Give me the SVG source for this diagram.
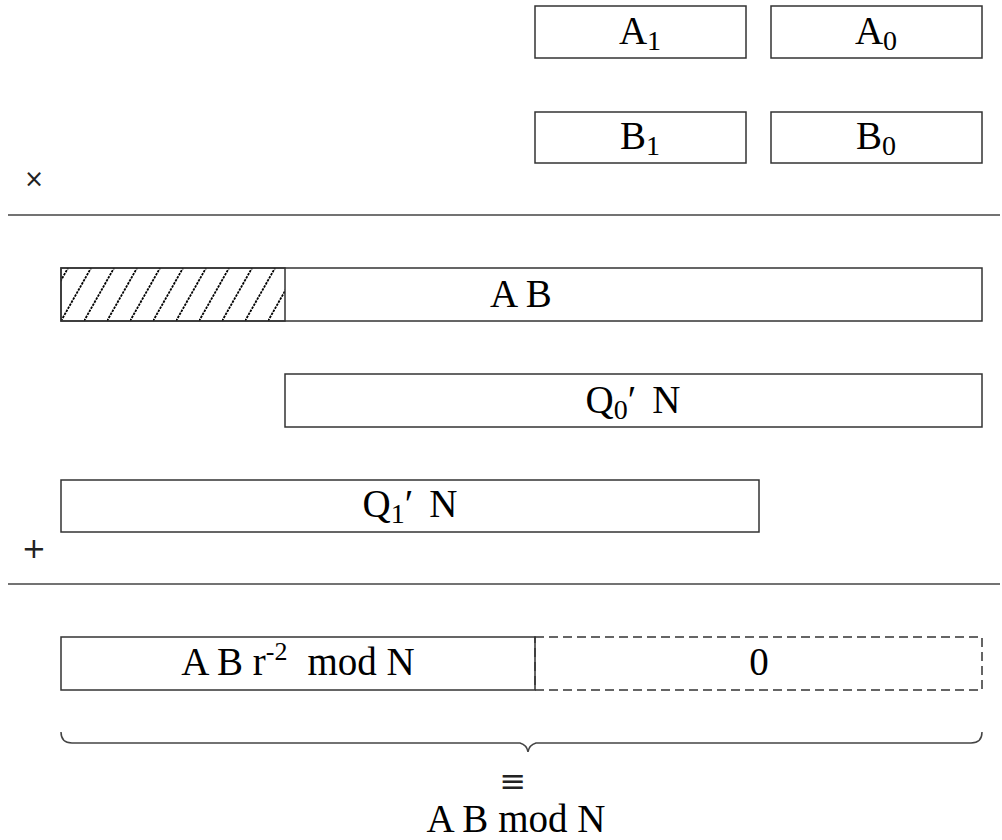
<svg xmlns="http://www.w3.org/2000/svg" width="1002" height="840" viewBox="0 0 1002 840">
<style>
.box{fill:#fff;stroke:#333;stroke-width:1.5}
.dash{fill:none;stroke:#333;stroke-width:1.5;stroke-dasharray:9,5}
.rule{stroke:#444;stroke-width:1.5}
.t{font-family:"Liberation Serif","Times New Roman",serif;font-size:39px;fill:#000;text-anchor:middle}
.sub{font-size:28px}
.sup{font-size:26px}
.op{font-family:"DejaVu Sans","Liberation Sans",sans-serif;font-size:24px;fill:#222;text-anchor:middle}
</style>
<defs>
<pattern id="hatch" patternUnits="userSpaceOnUse" width="23" height="53" x="61" y="268">
<path d="M0,53 L30,0 M-23,53 L7,0" stroke="#000" stroke-width="1.8" stroke-dasharray="2.5,1" fill="none"/>
</pattern>
</defs>
<g id="A1"><rect class="box" x="535" y="6" width="211" height="52"/><text class="t" x="640" y="44">A<tspan class="sub" dy="6">1</tspan></text></g>
<g id="A0"><rect class="box" x="771" y="6" width="211" height="52"/><text class="t" x="876" y="44">A<tspan class="sub" dy="6">0</tspan></text></g>
<g id="B1"><rect class="box" x="535" y="112" width="211" height="51"/><text class="t" x="640" y="149">B<tspan class="sub" dy="6">1</tspan></text></g>
<g id="B0"><rect class="box" x="771" y="112" width="211" height="51"/><text class="t" x="876" y="149">B<tspan class="sub" dy="6">0</tspan></text></g>
<g id="times"><text class="op" x="34" y="187">×</text></g>
<g id="rule1"><line class="rule" x1="8" y1="215" x2="1000" y2="215"/></g>
<g id="AB"><rect class="box" x="61" y="268" width="921" height="53"/><rect x="61" y="268" width="224" height="53" fill="url(#hatch)" stroke="#333" stroke-width="1.5"/><text class="t" x="521" y="307">A B</text></g>
<g id="Q0N"><rect class="box" x="285" y="374" width="697" height="53"/><text class="t" x="633" y="413">Q<tspan class="sub" dy="6">0</tspan><tspan dy="-6">′</tspan><tspan dx="16">N</tspan></text></g>
<g id="Q1N"><rect class="box" x="61" y="480" width="698" height="52"/><text class="t" x="410" y="517">Q<tspan class="sub" dy="6">1</tspan><tspan dy="-6">′</tspan><tspan dx="16">N</tspan></text></g>
<g id="plus"><text class="op" x="34" y="558" style="font-size:29px">+</text></g>
<g id="rule2"><line class="rule" x1="8" y1="584" x2="1000" y2="584"/></g>
<g id="result"><rect class="box" x="61" y="637" width="474" height="53"/><text class="t" x="298" y="675">A B r<tspan class="sup" dy="-15">-2</tspan><tspan dy="15" dx="20">mod N</tspan></text></g>
<g id="zero"><rect class="dash" x="535" y="637" width="447" height="53"/><text class="t" x="759" y="675">0</text></g>
<g id="connectors">
<path d="M61,732 Q61,743 72,743 L520,743 Q527,745 528,752 Q529,745 536,743 L971,743 Q982,743 982,732" fill="none" stroke="#444" stroke-width="1.5"/>
</g>
<g id="equiv"><text class="op" x="513" y="792" style="font-size:32px">≡</text></g>
<g id="final"><text class="t" x="516" y="832">A B mod N</text></g>
</svg>
